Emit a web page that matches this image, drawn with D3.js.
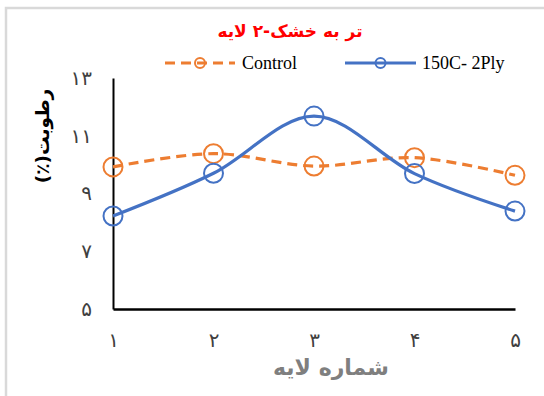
<!DOCTYPE html>
<html>
<head>
<meta charset="utf-8">
<script src="https://cdn.jsdelivr.net/npm/d3@7"></script>
<style>
  html, body { margin: 0; padding: 0; background: #fff; }
  svg { display: block; }
</style>
</head>
<body>
<svg id="chart" width="544" height="396"></svg>
<script>
// Layer numbers (category axis) and moisture values per series
const layers = ["۱", "۲", "۳", "۴", "۵"];
const controlValues = [9.92, 10.38, 9.95, 10.24, 9.63];
const plyValues = [8.22, 9.70, 11.68, 9.69, 8.39];
const yTicks = [5, 7, 9, 11, 13];
const yTickLabels = ["۵", "۷", "۹", "۱۱", "۱۳"];
const seriesNames = ["Control", "150C- 2Ply"];

const svg = d3.select("#chart");
const W = 544, H = 396;

// outer chart frame
svg.append("rect")
  .attr("x", 6).attr("y", 8)
  .attr("width", W + 20).attr("height", H + 20)
  .attr("fill", "#fff")
  .attr("stroke", "#d9d9d9").attr("stroke-width", 2.5);

const x = d3.scalePoint().domain(d3.range(layers.length)).range([113, 515]);
const y = d3.scaleLinear().domain([5, 13]).range([309, 78]);

// chart title
svg.append("text")
  .attr("x", 290).attr("y", 37)
  .attr("text-anchor", "middle")
  .attr("font-family", "DejaVu Sans, Noto Sans, sans-serif")
  .attr("font-weight", "bold")
  .attr("font-size", 17)
  .attr("fill", "#ff0000")
  .attr("direction", "rtl")
  .text("تر به خشک-۲ لایه");

// axes
const yAxis = d3.axisLeft(y).tickValues(yTicks)
  .tickFormat((d, i) => yTickLabels[i]).tickSize(0).tickPadding(21);
const gy = svg.append("g").attr("transform", "translate(113,0)").call(yAxis);
gy.select(".domain").attr("stroke", "#000").attr("stroke-width", 2);
gy.selectAll("text")
  .attr("font-family", "DejaVu Sans, sans-serif")
  .attr("font-size", 20)
  .attr("fill", "#404040");

const xAxis = d3.axisBottom(x).tickFormat(i => layers[i]).tickSize(0).tickPadding(24);
const gx = svg.append("g").attr("transform", "translate(0,309)").call(xAxis);
gx.select(".domain").attr("stroke", "#000").attr("stroke-width", 2.5);
gx.selectAll("text")
  .attr("font-family", "DejaVu Sans, sans-serif")
  .attr("font-size", 20)
  .attr("fill", "#404040");

// axis titles
svg.append("text")
  .attr("x", 331).attr("y", 375)
  .attr("text-anchor", "middle")
  .attr("font-family", "DejaVu Sans, sans-serif")
  .attr("font-weight", "bold")
  .attr("font-size", 22)
  .attr("fill", "#7f7f7f")
  .attr("direction", "rtl")
  .text("شماره لایه");

svg.append("text")
  .attr("transform", "translate(49,136) rotate(-90)")
  .attr("text-anchor", "middle")
  .attr("font-family", "DejaVu Sans, sans-serif")
  .attr("font-weight", "bold")
  .attr("font-size", 18.5)
  .attr("fill", "#000")
  .attr("direction", "rtl")
  .attr("unicode-bidi", "embed")
  .text("رطوبت(٪)");

// series
const series = [
  { name: seriesNames[0], values: controlValues, color: "#ed7d31", dash: "10,6" },
  { name: seriesNames[1], values: plyValues, color: "#4472c4", dash: null }
];

const line = d3.line()
  .x((d, i) => x(i))
  .y(d => y(d))
  .curve(d3.curveCardinal.tension(0));

series.forEach(s => {
  svg.append("path")
    .datum(s.values)
    .attr("d", line)
    .attr("fill", "none")
    .attr("stroke", s.color)
    .attr("stroke-width", 3.2)
    .attr("stroke-dasharray", s.dash);
  svg.append("g").selectAll("circle")
    .data(s.values)
    .join("circle")
    .attr("cx", (d, i) => x(i))
    .attr("cy", d => y(d))
    .attr("r", 9.5)
    .attr("fill", "none")
    .attr("stroke", s.color)
    .attr("stroke-width", 2);
});

// legend
const legendItems = [
  { s: series[0], x0: 165, x1: 235, tx: 242 },
  { s: series[1], x0: 345, x1: 416, tx: 422 }
];
legendItems.forEach(it => {
  const g = svg.append("g");
  g.append("line")
    .attr("x1", it.x0).attr("x2", it.x1)
    .attr("y1", 63).attr("y2", 63)
    .attr("stroke", it.s.color)
    .attr("stroke-width", 3.2)
    .attr("stroke-dasharray", it.s.dash);
  g.append("circle")
    .attr("cx", (it.x0 + it.x1) / 2).attr("cy", 63).attr("r", 5)
    .attr("fill", "none").attr("stroke", it.s.color).attr("stroke-width", 2);
  g.append("text")
    .attr("x", it.tx).attr("y", 69)
    .attr("font-family", "Liberation Serif, Times New Roman, serif")
    .attr("font-size", 18)
    .attr("fill", "#000")
    .text(it.s.name);
});
</script>
</body>
</html>
